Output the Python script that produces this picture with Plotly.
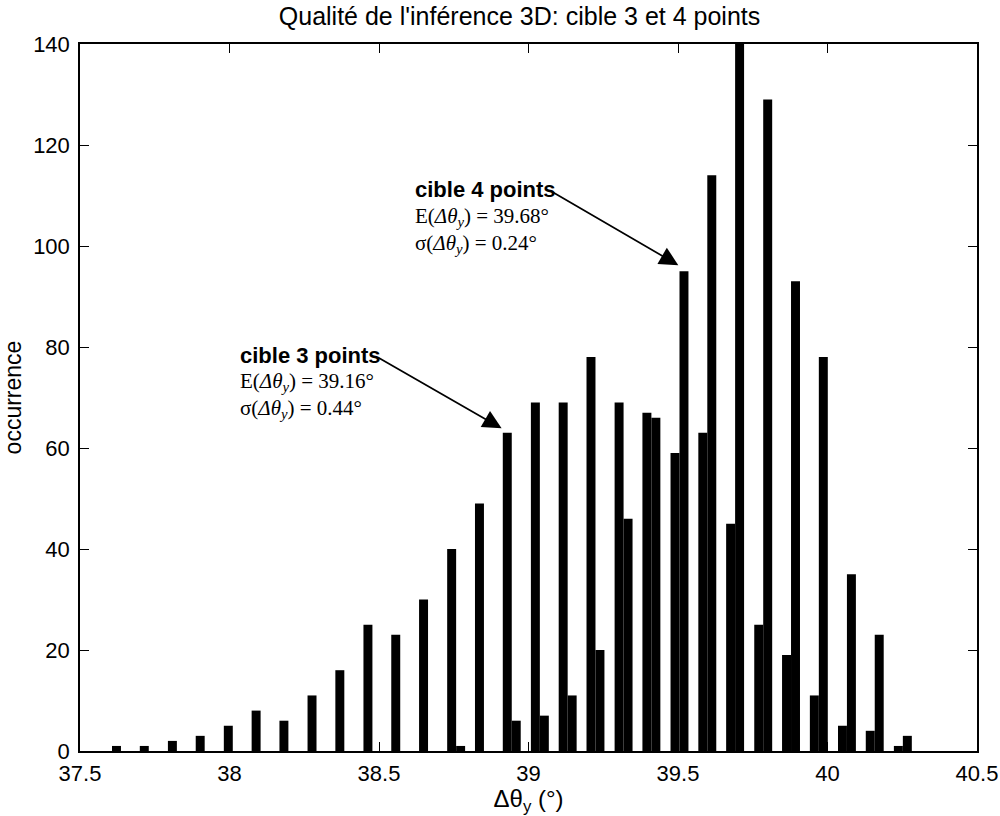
import plotly.graph_objects as go

# Histogram bin centres (degrees) shared by both targets
bin_centers = [37.637, 37.730, 37.824, 37.917, 38.011, 38.104, 38.197, 38.291,
               38.384, 38.478, 38.571, 38.664, 38.758, 38.851, 38.944, 39.038,
               39.131, 39.224, 39.318, 39.411, 39.505, 39.598, 39.691, 39.785,
               39.878, 39.971, 40.065, 40.158, 40.252]

# Occurrence counts per bin
cible3 = [1, 1, 2, 3, 5, 8, 6, 11, 16, 25, 23, 30, 40, 49, 63, 69, 69, 78, 69,
          67, 59, 63, 45, 25, 19, 11, 5, 4, 1]
cible4 = [0, 0, 0, 0, 0, 0, 0, 0, 0, 0, 0, 0, 1, 0, 6, 7, 11, 20, 46, 66, 95,
          114, 140, 129, 93, 78, 35, 23, 3]

x_ticks = [37.5, 38, 38.5, 39, 39.5, 40, 40.5]
y_ticks = [0, 20, 40, 60, 80, 100, 120, 140]

SANS = "Liberation Sans, Arial, Helvetica, sans-serif"
SERIF = "Liberation Serif, Times New Roman, serif"

fig = go.Figure()
fig.add_trace(go.Bar(x=bin_centers, y=cible3, name="cible 3 points",
                     marker=dict(color="black", line=dict(width=0))))
fig.add_trace(go.Bar(x=bin_centers, y=cible4, name="cible 4 points",
                     marker=dict(color="black", line=dict(width=0))))

# Statistic labels for each target
labels = [
    dict(x=38.613, ys=[111.1, 105.8, 100.4], name="cible 4 points",
         mean="39.68", std="0.24"),
    dict(x=38.027, ys=[78.4, 73.1, 67.7], name="cible 3 points",
         mean="39.16", std="0.44"),
]
annotations = []
for lab in labels:
    lines = [
        ("<b>%s</b>" % lab["name"], SANS, 22),
        ("E(<i>Δθ</i><sub><i>y</i></sub>) = %s°" % lab["mean"], SERIF, 21),
        ("σ(<i>Δθ</i><sub><i>y</i></sub>) = %s°" % lab["std"], SERIF, 21),
    ]
    for (txt, fam, sz), yy in zip(lines, lab["ys"]):
        annotations.append(dict(x=lab["x"], y=yy, xref="x", yref="y",
                                text=txt, showarrow=False, xanchor="left",
                                yanchor="middle",
                                font=dict(family=fam, size=sz, color="black")))

# Arrows from each label to its distribution
arrows = [
    dict(tail=(39.078, 110.75), tip=(39.501, 96.2)),
    dict(tail=(38.492, 78.1), tip=(38.910, 63.9)),
]
for a in arrows:
    annotations.append(dict(x=a["tip"][0], y=a["tip"][1], xref="x", yref="y",
                            ax=a["tail"][0], ay=a["tail"][1], axref="x",
                            ayref="y", text="", showarrow=True, arrowhead=2,
                            arrowsize=2.2, arrowwidth=1.7, arrowcolor="black",
                            standoff=0, startstandoff=0))

fig.update_layout(
    width=1000, height=816,
    margin=dict(l=80, r=23, t=44, b=65, autoexpand=False),
    paper_bgcolor="white", plot_bgcolor="white",
    barmode="group", bargap=0.355, bargroupgap=0,
    showlegend=False,
    font=dict(family=SANS, size=22, color="black"),
    title=dict(text="Qualité de l'inférence 3D: cible 3 et 4 points",
               x=0.49, xref="paper", xanchor="center",
               y=1 - 16 / 816, yref="container", yanchor="middle",
               font=dict(family=SANS, size=25, color="black")),
    annotations=annotations,
)
fig.update_xaxes(range=[37.5, 40.5], tickvals=x_ticks,
                 ticktext=[("%g" % v) for v in x_ticks],
                 ticks="inside", ticklen=9, tickwidth=1, tickcolor="black",
                 showline=True, linecolor="black", linewidth=1.5,
                 mirror="ticks", showgrid=False, zeroline=False,
                 automargin=False,
                 tickfont=dict(size=22), ticklabelstandoff=2,
                 title=dict(text="Δθ<sub>y</sub> (°)", standoff=4,
                            font=dict(size=24)))
fig.update_yaxes(range=[0, 140], tickvals=y_ticks,
                 ticks="inside", ticklen=9, tickwidth=1, tickcolor="black",
                 showline=True, linecolor="black", linewidth=1.5,
                 mirror="ticks", showgrid=False, zeroline=False,
                 automargin=False,
                 tickfont=dict(size=22), ticklabelstandoff=4,
                 title=dict(text="occurrence", standoff=8,
                            font=dict(size=23)))

fig.write_html("out.html")
